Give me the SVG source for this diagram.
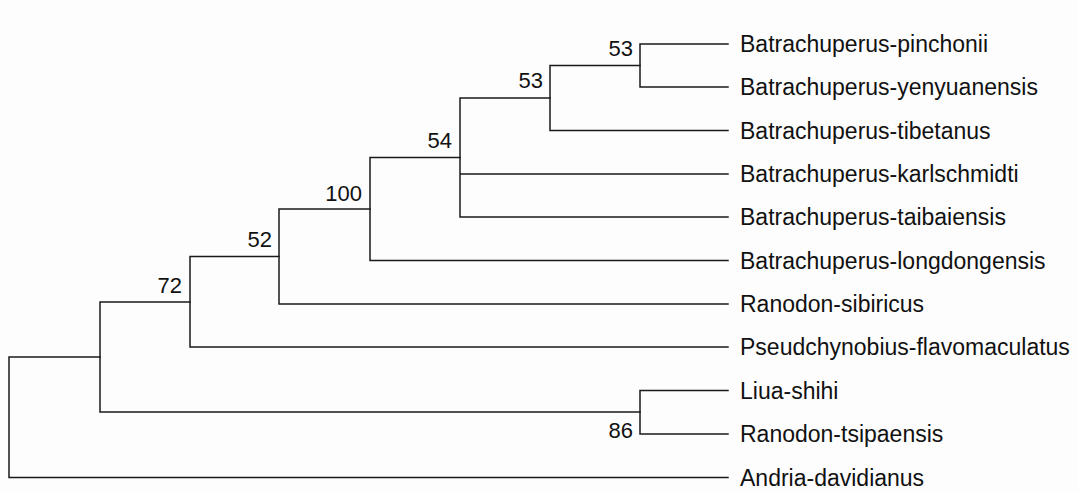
<svg xmlns="http://www.w3.org/2000/svg" width="1078" height="492" viewBox="0 0 1078 492">
<style>
.br{fill:none;stroke:#1a1a1a;stroke-width:1.5;stroke-linecap:square}
.tx{font-family:"Liberation Sans",Arial,sans-serif;font-size:23px;fill:#111}
.bs{font-family:"Liberation Sans",Arial,sans-serif;font-size:22px;fill:#111;text-anchor:end}
</style>
<rect x="0" y="0" width="1078" height="492" fill="#fdfdfd"/>
<g id="connectors">
<path class="br" d="M640,44 V87 M640,44 H728 M640,87 H728"/>
<path class="br" d="M550,65.5 V130.5 M550,65.5 H640 M550,130.5 H728"/>
<path class="br" d="M460,98 V217 M460,98 H550 M460,174 H728 M460,217 H728"/>
<path class="br" d="M370,157.5 V260.5 M370,157.5 H460 M370,260.5 H728"/>
<path class="br" d="M279,209 V304 M279,209 H370 M279,304 H728"/>
<path class="br" d="M190,256.5 V347 M190,256.5 H279 M190,347 H728"/>
<path class="br" d="M640,390.5 V434 M640,390.5 H728 M640,434 H728"/>
<path class="br" d="M100,302 V412 M100,302 H190 M100,412 H640"/>
<path class="br" d="M9,357 V477.5 M9,357 H100 M9,477.5 H728"/>
</g>
<g id="leaf-pinchonii"><text class="tx" x="740" y="52">Batrachuperus-pinchonii</text></g>
<g id="leaf-yenyuanensis"><text class="tx" x="740" y="95">Batrachuperus-yenyuanensis</text></g>
<g id="leaf-tibetanus"><text class="tx" x="740" y="138.5">Batrachuperus-tibetanus</text></g>
<g id="leaf-karlschmidti"><text class="tx" x="740" y="182">Batrachuperus-karlschmidti</text></g>
<g id="leaf-taibaiensis"><text class="tx" x="740" y="225">Batrachuperus-taibaiensis</text></g>
<g id="leaf-longdongensis"><text class="tx" x="740" y="268.5">Batrachuperus-longdongensis</text></g>
<g id="leaf-sibiricus"><text class="tx" x="740" y="312">Ranodon-sibiricus</text></g>
<g id="leaf-pseudchynobius"><text class="tx" x="740" y="355">Pseudchynobius-flavomaculatus</text></g>
<g id="leaf-liua"><text class="tx" x="740" y="398.5">Liua-shihi</text></g>
<g id="leaf-tsipaensis"><text class="tx" x="740" y="442">Ranodon-tsipaensis</text></g>
<g id="leaf-andria"><text class="tx" x="740" y="485.5">Andria-davidianus</text></g>
<g id="node-a"><text class="bs" x="633" y="56">53</text></g>
<g id="node-b"><text class="bs" x="543" y="88">53</text></g>
<g id="node-c"><text class="bs" x="452" y="148">54</text></g>
<g id="node-d"><text class="bs" x="362" y="201">100</text></g>
<g id="node-e"><text class="bs" x="272" y="247">52</text></g>
<g id="node-f"><text class="bs" x="182" y="293">72</text></g>
<g id="node-h"><text class="bs" x="633" y="438">86</text></g>
</svg>
